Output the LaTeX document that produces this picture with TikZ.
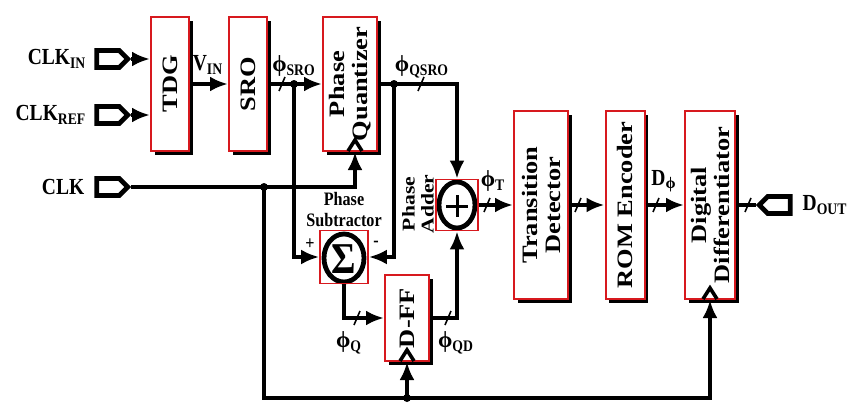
\documentclass[tikz,border=0pt]{standalone}
\usepackage{fontspec}
\setmainfont{Liberation Serif}[FakeStretch=0.85]
\newfontfamily\vfont{Liberation Serif}[FakeStretch=1.2]
\newfontfamily\phfont{Liberation Serif}
\usetikzlibrary{arrows.meta,positioning,shadows,shapes.symbols,calc}
\definecolor{boxred}{RGB}{215,25,30}

\tikzset{
  blk/.style={draw=boxred, line width=1pt, fill=white, inner sep=0pt,
    drop shadow={shadow xshift=1.8pt, shadow yshift=-1.8pt, fill=black, opacity=1}},
  sumbox/.style={draw=boxred, line width=0.9pt, inner sep=0pt},
  port/.style={signal, signal to=east, draw, line width=2.4pt, fill=white,
    inner sep=0pt, minimum width=15.5pt, minimum height=8.5pt},
  vtext/.style={rotate=90, align=center, inner sep=0pt,
    font=\vfont\bfseries\fontsize{11}{11.5}\selectfont},
  lbl/.style={inner sep=0pt, font=\bfseries\fontsize{11.5}{13}\selectfont},
  small/.style={inner sep=0pt, align=center, font=\bfseries\fontsize{9.5}{10.5}\selectfont},
  ckmark/.pic={\draw[line width=1.8pt] (-7,-1) -- (0,-12) -- (7,-1);}
}
\newcommand{\ph}{{\phfont\bfseries ϕ}}

\begin{document}
\begin{tikzpicture}[x=0.5pt, y=-0.5pt, line width=2pt,
  >={Latex[length=9pt,width=7.5pt]}]
\useasboundingbox (0,0) rectangle (858,412);

% input and output ports
\node[port] (cin) at (108,59) {};
\node[port] (cref) at (108,115) {};
\node[port] (clk) at (108,187) {};
\node[port, signal to=west] (dout) at (779,205) {};
\node[lbl, left=3pt of cin] (cin-l) {CLK\textsubscript{IN}};
\node[lbl, left=3pt of cref] (cref-l) {CLK\textsubscript{REF}};
\node[lbl, left=4pt of clk] (clk-l) {CLK};
\node[lbl, right=4pt of dout] (dout-l) {D\textsubscript{OUT}};

% main blocks
\node[blk, minimum width=19pt, minimum height=67pt] (tdg) at (170,84) {};
\node[vtext] (tdg-t) at (tdg) {TDG};
\node[blk, minimum width=19pt, minimum height=67pt] (sro) at (248,84) {};
\node[vtext] (sro-t) at (sro) {SRO};
\node[blk, minimum width=27pt, minimum height=67pt] (pq) at (350,84) {};
\node[vtext] (pq-t) at (pq) {Phase\\Quantizer};
\node[blk, minimum width=27pt, minimum height=94pt] (td) at (541,205) {};
\node[vtext] (td-t) at (td) {Transition\\Detector};
\node[blk, minimum width=19.5pt, minimum height=94pt] (rom) at (625,205) {};
\node[vtext] (rom-t) at (rom) {ROM Encoder};
\node[blk, minimum width=25pt, minimum height=94pt] (dd) at (710,205) {};
\node[vtext] (dd-t) at (dd) {Digital\\Differentiator};
\node[blk, minimum width=22pt, minimum height=43pt] (dff) at (407,318) {};
\node[vtext] (dff-t) at (dff) {D-FF};

% subtractor and adder
\draw[line width=2.4pt] (344,258) ellipse (20 and 24);
\node[sumbox, minimum width=24pt, minimum height=26.5pt] (sub) at (344,257) {};
\node[font=\bfseries\fontsize{22}{22}\selectfont] (sub-s) at (344,259) {Σ};
\node[small] (sub-t) at (344,210) {Phase\\Subtractor};
\node[small] (sub-p) at (310,244) {+};
\node[small] (sub-m) at (376,244) {-};
\draw[line width=2.4pt] (457,205) ellipse (18 and 23);
\node[sumbox, minimum width=21pt, minimum height=25.5pt] (add) at (457,205) {};
\draw[line width=1.5pt] (446,206) -- (468,206) (457,195) -- (457,217);
\node[small, rotate=90, font=\vfont\bfseries\fontsize{9}{9.5}\selectfont] (add-t) at (418,204) {Phase\\Adder};

% junctions
\coordinate (jsro) at (294,84);
\coordinate (jq) at (394,84);
\coordinate (jclk) at (264,187);
\coordinate (jbot) at (dff.south |- 0,398);
\coordinate (pqck) at ($(pq.south)+(5,0)$);

% signal paths
\draw[->] (cin.east) -- (cin.east -| tdg.west);
\draw[->] (cref.east) -- (cref.east -| tdg.west);
\draw[->] (tdg.east) -- (sro.west);
\draw[->] (sro.east) -- (pq.west);
\draw[->] (pq.east) -| (add.north);
\draw[->] (jsro) |- (sub.west);
\draw[->] (jq) |- (sub.east);
\draw[->] (sub.south) |- (dff.west);
\draw[->] (dff.east) -| (add.south);
\draw[->] (add.east) -- (td.west);
\draw[->] (td.east) -- (rom.west);
\draw[->] (rom.east) -- (dd.west);
\draw (dd.east) -- (dout.west);

% clock paths
\draw[->] (clk.east) -| (pqck);
\draw[->] (jclk) |- (jbot) -| (dd.south);
\draw[->] (jbot) -- (dff.south);
\pic at (pqck) {ckmark};
\pic at (dff.south) {ckmark};
\pic at (dd.south) {ckmark};
\foreach \j in {jsro,jq,jclk,jbot}
  \fill (\j) circle (4);

% bus ticks
\foreach \x/\y in {282/84, 421/84, 357/318, 448/318, 487/205, 578/205, 656/205, 748/205}
  \draw[line width=0.8pt] (\x,\y) +(-3,7) -- +(3,-7);

% wire labels
\node[lbl] (vin-l) at (208,65) {V\textsubscript{IN}};
\node[lbl] (sro-l) at (294,66) {\ph\textsubscript{SRO}};
\node[lbl] (qsro-l) at (422,67) {\ph\textsubscript{QSRO}};
\node[lbl] (t-l) at (493,181) {\ph\textsubscript{T}};
\node[lbl] (dph-l) at (664,181) {D\textsubscript{\ph}};
\node[lbl] (q-l) at (349,343) {\ph\textsubscript{Q}};
\node[lbl] (qd-l) at (456,343) {\ph\textsubscript{QD}};

\end{tikzpicture}
\end{document}
